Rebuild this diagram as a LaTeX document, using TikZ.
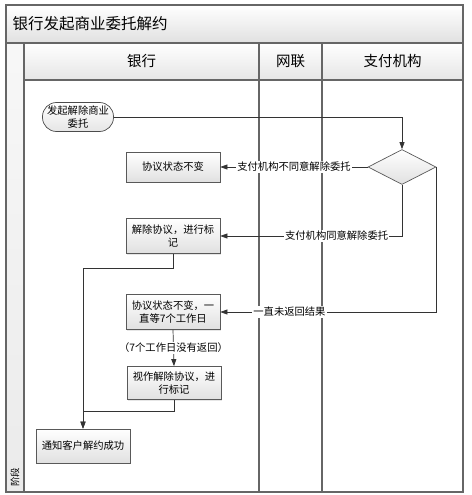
\documentclass[tikz,border=0pt]{standalone}
\usepackage{fontspec}
\setmainfont{Noto Sans CJK SC}
\usetikzlibrary{arrows.meta,shapes.geometric,shadows}

\begin{document}
\begin{tikzpicture}[
    x=1pt, y=-1pt,
    font=\fontsize{10.3}{12.5}\selectfont,
    >={Triangle[length=7pt,width=5pt]},
    frame/.style={draw=black!60, line width=1.1pt},
    bar/.style={draw=black!60, line width=1.1pt, top color=white, bottom color=black!12},
    lane/.style={draw=black!60, line width=1.1pt, top color=white, bottom color=black!10, font=\fontsize{14.5}{16}\selectfont},
    act/.style={rectangle, draw=black!65, line width=0.7pt, top color=white, bottom color=black!12, minimum width=94pt, align=center, inner sep=2pt, drop shadow={opacity=0.2, shadow xshift=1pt, shadow yshift=-1pt}},
    term/.style={rectangle, rounded corners=14pt, draw=black!70, line width=0.7pt, top color=white, bottom color=black!10, minimum width=71pt, minimum height=29pt, align=center, inner sep=1pt},
    decide/.style={diamond, draw=black!65, line width=0.7pt, top color=white, bottom color=black!12, minimum width=68pt, minimum height=35pt, inner sep=0pt},
    flow/.style={->, draw=black!80, line width=0.7pt},
    lbl/.style={fill=white, inner sep=1pt}
]
\useasboundingbox (0,0) rectangle (471,495);

% frame, title bar, lanes
\draw[bar] (6,5) rectangle (463,43);
\node[anchor=west, font=\fontsize{15.5}{17}\selectfont] (title) at (9,24) {银行发起商业委托解约};
\draw[frame, top color=black!3, bottom color=black!8] (6,43) rectangle (24,492);
\draw[lane] (24,43) rectangle node (hbank) {银行} (259,80);
\draw[lane] (259,43) rectangle node (hunion) {网联} (322,80);
\draw[lane] (322,43) rectangle node (hpay) {支付机构} (463,80);
\draw[frame] (24,80) rectangle (463,492);
\draw[frame] (259,80) -- (259,492);
\draw[frame] (322,80) -- (322,492);
\draw[frame] (6,5) rectangle (463,492);
\node[rotate=90, font=\fontsize{9.5}{11}\selectfont] (phase) at (15,477) {阶段};

% activities
\node[term] (start) at (78,117) {发起解除商业\\委托};
\node[decide] (dec) at (402,167) {};
\node[act, minimum height=30pt] (keep) at (173,167) {协议状态不变};
\node[act, minimum height=35pt] (cancel) at (173,236) {解除协议，进行标\\记};
\node[act, minimum height=35pt] (wait) at (173,312) {协议状态不变，一\\直等7个工作日};
\node[act, minimum height=33pt] (deem) at (174,383) {视作解除协议，进\\行标记};
\node[act, minimum height=34pt] (notify) at (83,446) {通知客户解约成功};

% connectors
\draw[flow] (start.east) -| (dec.north);
\draw[flow] (dec.west) -- node[lbl] {支付机构不同意解除委托} (keep.east);
\draw[flow] (dec.south) |- node[lbl, pos=0.68] {支付机构同意解除委托} (cancel.east);
\draw[flow] (dec.east) |- node[lbl, pos=0.84] {一直未返回结果} (wait.east);
\draw[flow] (wait.south) -- node[lbl] {（7个工作日没有返回）} (deem.north);
\draw[flow] (cancel.south) -- ++(0,14) -| (notify.north);
\draw[flow] (deem.south) -- ++(0,11) -| (notify.north);

\end{tikzpicture}
\end{document}
